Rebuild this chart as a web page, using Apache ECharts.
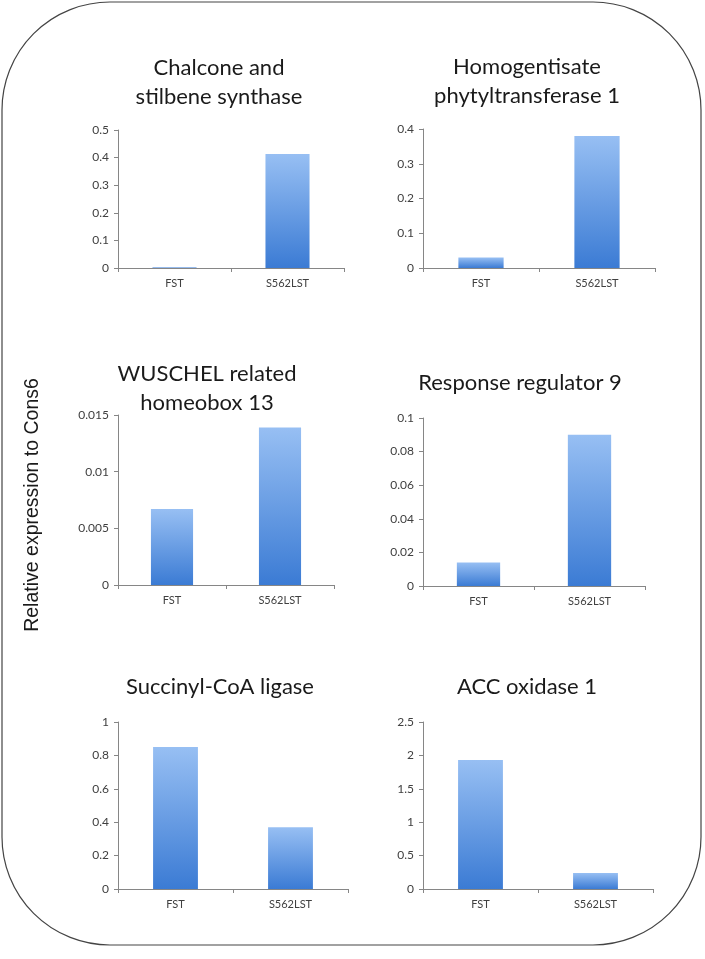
<!DOCTYPE html>
<html>
<head>
    <meta charset="utf-8">
    <title>Relative expression</title>
    <script src="https://cdn.jsdelivr.net/npm/echarts@6.0.0/dist/echarts.min.js"></script>
    <style>
        html, body { margin: 0; padding: 0; background: #fff; }
        #chart { width: 705px; height: 959px; }
    </style>
</head>
<body>
<div id="chart"></div>
<script>
    // data
    var categories = ['FST', 'S562LST'];
    var chalcone = [0.003, 0.413];
    var homogentisate = [0.03, 0.38];
    var wuschel = [0.0067, 0.0139];
    var response = [0.014, 0.09];
    var succinyl = [0.85, 0.37];
    var accOxidase = [1.93, 0.24];

    var titles = [
        'Chalcone and\nstilbene synthase',
        'Homogentisate\nphytyltransferase 1',
        'WUSCHEL related\nhomeobox 13',
        'Response regulator 9',
        'Succinyl-CoA ligase',
        'ACC oxidase 1'
    ];
    var yMax = [0.5, 0.4, 0.015, 0.1, 1, 2.5];
    var yStep = [0.1, 0.1, 0.005, 0.02, 0.2, 0.5];
    var values = [chalcone, homogentisate, wuschel, response, succinyl, accOxidase];

    // panel boxes and title positions (px)
    var panels = [
        {left: 118, top: 130, width: 226, height: 138, tx: 219, ty: 82},
        {left: 423, top: 129, width: 232, height: 139, tx: 527, ty: 81},
        {left: 118, top: 415, width: 216, height: 170, tx: 207, ty: 388},
        {left: 423, top: 418, width: 222, height: 168, tx: 520, ty: 383},
        {left: 118, top: 722, width: 230, height: 167, tx: 220, ty: 687},
        {left: 423, top: 722, width: 230, height: 167, tx: 527, ty: 687}
    ];

    var axisColor = '#868686';
    var textColor = '#404040';
    var barColor = new echarts.graphic.LinearGradient(0, 0, 0, 1, [
        {offset: 0, color: '#97bff3'},
        {offset: 1, color: '#3b7bd4'}
    ]);

    var grid = [], xAxis = [], yAxis = [], series = [];
    var graphic = [
        {
            type: 'rect',
            shape: {x: 2, y: 2, width: 699, height: 943, r: 108},
            style: {fill: 'none', stroke: '#444', lineWidth: 1.2},
            silent: true
        },
        {
            type: 'text',
            x: 33, y: 505,
            rotation: Math.PI / 2,
            style: {
                text: 'Relative expression to Cons6',
                fontFamily: 'Liberation Sans',
                fontSize: 19.5,
                fill: '#1a1a1a',
                align: 'center',
                verticalAlign: 'middle'
            }
        }
    ];

    for (var i = 0; i < 6; i++) {
        var p = panels[i];
        grid.push({left: p.left, top: p.top, width: p.width, height: p.height});
        xAxis.push({
            type: 'category',
            gridIndex: i,
            data: categories,
            axisLine: {lineStyle: {color: axisColor, width: 1}},
            axisTick: {show: true, length: 4, lineStyle: {color: axisColor}},
            axisLabel: {color: textColor, fontFamily: 'Lato', fontSize: 11, margin: 10}
        });
        yAxis.push({
            type: 'value',
            gridIndex: i,
            min: 0,
            max: yMax[i],
            interval: yStep[i],
            splitLine: {show: false},
            axisLine: {show: true, lineStyle: {color: axisColor, width: 1}},
            axisTick: {show: true, length: 4, lineStyle: {color: axisColor}},
            axisLabel: {color: textColor, fontFamily: 'Lato', fontSize: 12, margin: 9}
        });
        series.push({
            type: 'bar',
            xAxisIndex: i,
            yAxisIndex: i,
            data: values[i],
            barWidth: '39%',
            itemStyle: {color: barColor},
            silent: true
        });
        graphic.push({
            type: 'text',
            x: p.tx, y: p.ty,
            style: {
                text: titles[i],
                fontFamily: 'Lato',
                fontSize: 22,
                lineHeight: 29,
                fill: '#1a1a1a',
                align: 'center',
                verticalAlign: 'middle'
            }
        });
    }

    var chart = echarts.init(document.getElementById('chart'));
    chart.setOption({
        animation: false,
        grid: grid,
        xAxis: xAxis,
        yAxis: yAxis,
        series: series,
        graphic: graphic
    });
</script>
</body>
</html>
